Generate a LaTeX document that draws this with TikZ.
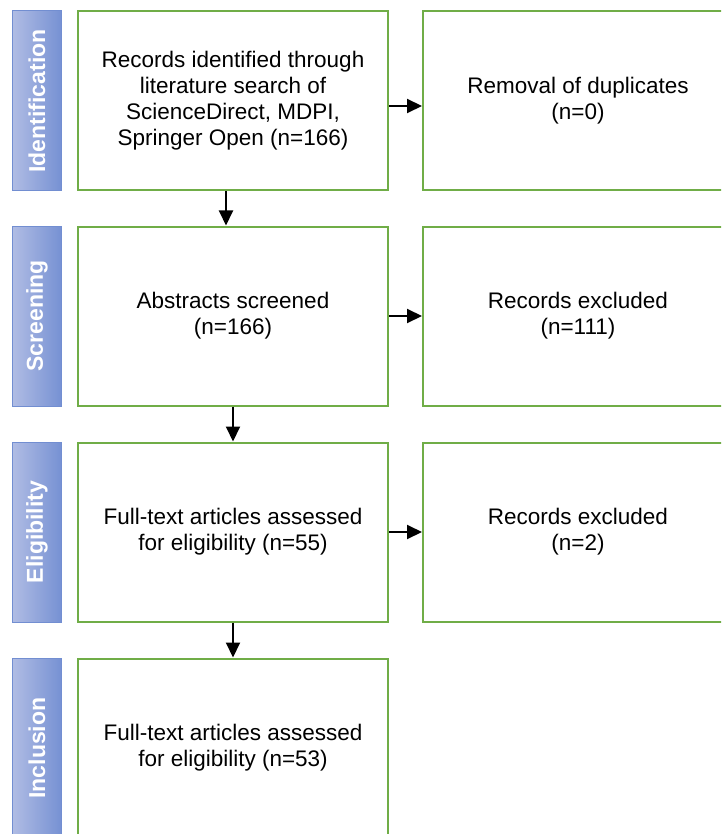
\documentclass[tikz,border=0pt]{standalone}
\usepackage{fontspec}
\setmainfont{Liberation Sans}
\usetikzlibrary{positioning, calc, arrows.meta}
\definecolor{boxgreen}{RGB}{112,173,71}
\definecolor{barline}{RGB}{114,142,209}
\definecolor{barlight}{RGB}{176,188,228}
\definecolor{bardark}{RGB}{118,145,211}
\tikzset{
stage/.style = {rectangle, draw = boxgreen, line width = 2pt, minimum width = 310pt,
   minimum height = 179pt, align = center, font = \fontsize{22.5}{26}\selectfont},
phase/.style = {rectangle, draw = barline, line width = 1pt, rotate = 90,
   left color = barlight, right color = bardark, minimum width = 180pt,
   minimum height = 49pt, text = white, font = \fontsize{23}{26}\selectfont\bfseries},
flow/.style = {-{Triangle[length = 15pt, width = 14pt]}, line width = 2pt}
}
\begin{document}
\begin{tikzpicture}[x = 1pt, y = 1pt]
\useasboundingbox (0,0) rectangle (721,-834);
\clip (0,0) rectangle (721,-834);

%% Main column
\node [stage] (B1) at (233,-101) {Records identified through\\literature search of\\ScienceDirect, MDPI,\\Springer Open (n=166)};
\node [stage] (B2) [below = 34pt of B1] {Abstracts screened\\(n=166)};
\node [stage] (B3) [below = 35pt of B2] {Full-text articles assessed\\for eligibility (n=55)};
\node [stage] (B4) [below = 35pt of B3] {Full-text articles assessed\\for eligibility (n=53)};

%% Excluded
\node [stage] (R1) [right = 33pt of B1] {Removal of duplicates\\(n=0)};
\node [stage] (R2) [right = 33pt of B2] {Records excluded\\(n=111)};
\node [stage] (R3) [right = 33pt of B3] {Records excluded\\(n=2)};

%% Phases
\node [phase] (P1) at ($(B1.west)+(-40pt,0)$) {Identification};
\node [phase] (P2) at ($(B2.west)+(-40pt,0)$) {Screening};
\node [phase] (P3) at ($(B3.west)+(-40pt,0)$) {Eligibility};
\node [phase] (P4) at ($(B4.west)+(-40pt,0)$) {Inclusion};

%% Arrows
\draw [flow] ([yshift = -5pt]B1.east) -- ([yshift = -5pt]R1.west);
\draw [flow] (B2.east) -- (R2.west);
\draw [flow] (B3.east) -- (R3.west);

\draw [flow] ([xshift = -7pt]B1.south) -- ([xshift = -7pt]B2.north);
\draw [flow] (B2) -- (B3);
\draw [flow] (B3) -- (B4);

\end{tikzpicture}
\end{document}
